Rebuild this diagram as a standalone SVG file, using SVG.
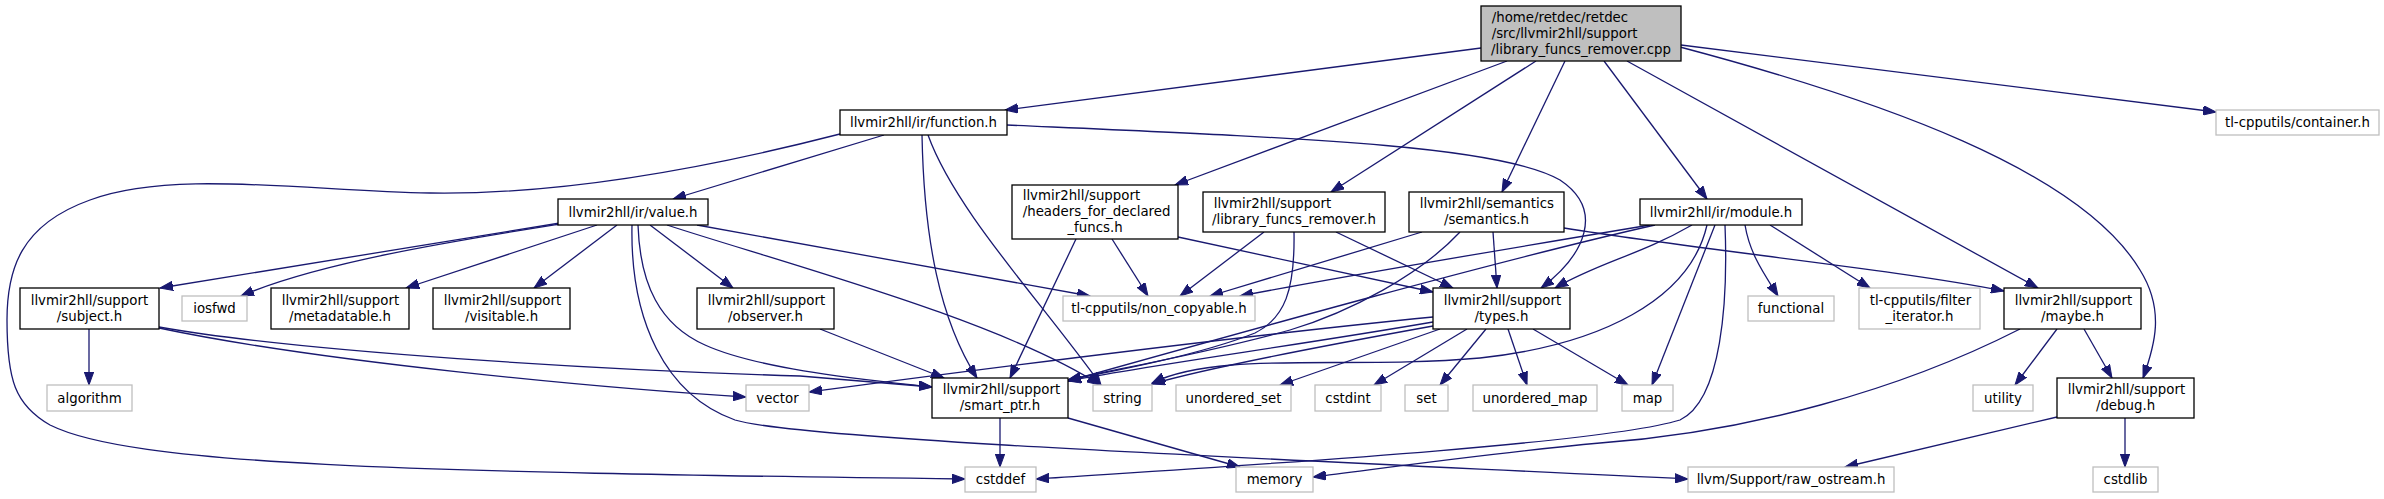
<svg xmlns="http://www.w3.org/2000/svg" width="2384" height="499" viewBox="0 0 2384 499">
<style>
.e{fill:none;stroke:#191970;stroke-width:1.3}
.n rect{fill:#fff;stroke:#000;stroke-width:1.3}
.x rect{fill:#fff;stroke:#bfbfbf;stroke-width:1.3}
.m rect{fill:#bfbfbf;stroke:#000;stroke-width:1.3}
text{font-family:"DejaVu Sans",sans-serif;font-size:13.33px;fill:#000}
.c{text-anchor:middle}
.s{text-anchor:start}
</style>
<defs>
<marker id="a" markerUnits="userSpaceOnUse" markerWidth="14" markerHeight="10" viewBox="0 0 14 10" refX="13" refY="5" orient="auto">
<path d="M0,0.3 L13,5 L0,9.7 z" fill="#191970" stroke="#191970" stroke-width="1"/>
</marker>
</defs>
<rect width="2384" height="499" fill="#fff"/>
<g id="edges" class="e" marker-end="url(#a)">
<path d="M1481,48 L1005,110"/>
<path d="M1507,61 L1175,185"/>
<path d="M1536,61 L1331,192"/>
<path d="M1565,61 L1502,192"/>
<path d="M1604,61 L1707,199"/>
<path d="M1627,61 L2038,288"/>
<path d="M1680,47 C1880,100 2080,170 2140,270 C2165,310 2155,345 2143,378"/>
<path d="M1681,45 L2216,112"/>
<path d="M884,135 L673,199"/>
<path d="M840,134 C700,170 560,195 430,193 C300,190 170,170 90,200 C20,225 7,270 7,320 C7,380 15,405 50,425 C130,465 400,472 965,479"/>
<path d="M922,135 C924,240 940,320 977,378"/>
<path d="M928,135 C955,210 1040,300 1101,385"/>
<path d="M1007,125 C1300,138 1500,145 1560,180 C1605,210 1585,255 1541,288"/>
<path d="M560,223 L160,288"/>
<path d="M560,224 C460,240 320,262 241,296"/>
<path d="M597,225 L406,288"/>
<path d="M617,225 L534,288"/>
<path d="M650,225 L733,288"/>
<path d="M638,225 C640,285 660,325 705,345 C760,370 870,380 932,387"/>
<path d="M632,225 C630,320 665,395 735,420 C800,440 1300,460 1688,479"/>
<path d="M667,225 C780,262 1000,320 1100,385"/>
<path d="M697,225 L1090,296"/>
<path d="M89,329 L89,385"/>
<path d="M159,328 C320,362 600,388 746,397"/>
<path d="M159,327 C300,352 600,370 800,376 L932,387"/>
<path d="M820,329 L944,378"/>
<path d="M1076,239 L1010,378"/>
<path d="M1112,239 L1148,296"/>
<path d="M1178,237 L1433,292"/>
<path d="M1264,232 L1180,296"/>
<path d="M1294,232 C1295,290 1285,318 1255,333 C1200,355 1110,372 1068,380"/>
<path d="M1336,232 L1453,288"/>
<path d="M1422,232 L1210,296"/>
<path d="M1460,232 C1420,275 1350,312 1290,330 C1200,355 1110,370 1068,380"/>
<path d="M1493,232 L1497,288"/>
<path d="M1564,228 C1700,250 1900,270 2004,291"/>
<path d="M1650,225 C1500,250 1350,275 1240,296"/>
<path d="M1655,225 C1500,260 1250,330 1068,381"/>
<path d="M1692,225 C1640,255 1600,262 1555,288"/>
<path d="M1707,225 C1690,300 1600,345 1480,358 C1350,370 1220,350 1152,383"/>
<path d="M1715,225 L1652,385"/>
<path d="M1725,225 C1728,300 1722,400 1680,420 C1600,445 1200,468 1036,479"/>
<path d="M1745,225 C1750,255 1765,275 1778,296"/>
<path d="M1770,225 L1870,288"/>
<path d="M1433,317 C1200,340 900,380 809,392"/>
<path d="M1433,322 C1300,345 1150,365 1068,381"/>
<path d="M1433,326 C1300,350 1200,370 1152,384"/>
<path d="M1440,329 L1280,385"/>
<path d="M1467,329 L1374,385"/>
<path d="M1486,329 L1440,385"/>
<path d="M1508,329 L1527,385"/>
<path d="M1533,329 L1628,385"/>
<path d="M2020,329 C1900,390 1750,432 1600,443 C1500,452 1400,466 1313,477"/>
<path d="M2057,329 L2015,385"/>
<path d="M2084,329 L2112,378"/>
<path d="M2057,417 L1845,467"/>
<path d="M2125,418 L2125,467"/>
<path d="M1000,418 L1000,467"/>
<path d="M1068,418 L1240,467"/>
</g>
<g id="main" class="m"><rect x="1481" y="6" width="200" height="55"/>
<text class="s" x="1491.7" y="21.5">/home/retdec/retdec</text>
<text class="s" x="1491.7" y="37.5">/src/llvmir2hll/support</text>
<text class="c" x="1581" y="53.5">/library_funcs_remover.cpp</text></g>
<g id="function" class="n"><rect x="840" y="110" width="167" height="25"/><text class="c" x="923.5" y="127">llvmir2hll/ir/function.h</text></g>
<g id="value" class="n"><rect x="558" y="199" width="150" height="26"/><text class="c" x="633" y="216.5">llvmir2hll/ir/value.h</text></g>
<g id="headers" class="n"><rect x="1012" y="185" width="166" height="54"/>
<text class="s" x="1022.7" y="200">llvmir2hll/support</text>
<text class="s" x="1022.7" y="216">/headers_for_declared</text>
<text class="c" x="1095" y="232">_funcs.h</text></g>
<g id="lfr" class="n"><rect x="1203" y="192" width="182" height="40"/>
<text class="s" x="1213.7" y="208">llvmir2hll/support</text>
<text class="c" x="1294" y="224">/library_funcs_remover.h</text></g>
<g id="semantics" class="n"><rect x="1409" y="192" width="155" height="40"/>
<text class="s" x="1419.7" y="208">llvmir2hll/semantics</text>
<text class="c" x="1486.5" y="224">/semantics.h</text></g>
<g id="module" class="n"><rect x="1640" y="199" width="162" height="26"/><text class="c" x="1721" y="216.5">llvmir2hll/ir/module.h</text></g>
<g id="container" class="x"><rect x="2216" y="110" width="163" height="25"/><text class="c" x="2297.5" y="127">tl-cpputils/container.h</text></g>
<g id="subject" class="n"><rect x="20" y="288" width="139" height="41"/>
<text class="s" x="30.7" y="304.5">llvmir2hll/support</text>
<text class="c" x="89.5" y="320.5">/subject.h</text></g>
<g id="iosfwd" class="x"><rect x="182" y="296" width="65" height="25"/><text class="c" x="214.5" y="313">iosfwd</text></g>
<g id="metadatable" class="n"><rect x="271" y="288" width="138" height="41"/>
<text class="s" x="281.7" y="304.5">llvmir2hll/support</text>
<text class="c" x="340" y="320.5">/metadatable.h</text></g>
<g id="visitable" class="n"><rect x="433" y="288" width="137" height="41"/>
<text class="s" x="443.7" y="304.5">llvmir2hll/support</text>
<text class="c" x="501.5" y="320.5">/visitable.h</text></g>
<g id="observer" class="n"><rect x="697" y="288" width="137" height="41"/>
<text class="s" x="707.7" y="304.5">llvmir2hll/support</text>
<text class="c" x="765.5" y="320.5">/observer.h</text></g>
<g id="non_copyable" class="x"><rect x="1063" y="296" width="192" height="25"/><text class="c" x="1159" y="313">tl-cpputils/non_copyable.h</text></g>
<g id="types" class="n"><rect x="1433" y="288" width="137" height="41"/>
<text class="s" x="1443.7" y="304.5">llvmir2hll/support</text>
<text class="c" x="1501.5" y="320.5">/types.h</text></g>
<g id="functional" class="x"><rect x="1748" y="296" width="86" height="25"/><text class="c" x="1791" y="313">functional</text></g>
<g id="filter_iterator" class="x"><rect x="1859" y="288" width="121" height="41"/>
<text class="s" x="1869.7" y="304.5">tl-cpputils/filter</text>
<text class="c" x="1919.5" y="320.5">_iterator.h</text></g>
<g id="maybe" class="n"><rect x="2004" y="288" width="137" height="41"/>
<text class="s" x="2014.7" y="304.5">llvmir2hll/support</text>
<text class="c" x="2072.5" y="320.5">/maybe.h</text></g>
<g id="algorithm" class="x"><rect x="47" y="385" width="85" height="26"/><text class="c" x="89.5" y="402.5">algorithm</text></g>
<g id="vector" class="x"><rect x="746" y="385" width="63" height="26"/><text class="c" x="777.5" y="402.5">vector</text></g>
<g id="smart_ptr" class="n"><rect x="932" y="378" width="136" height="40"/>
<text class="s" x="942.7" y="394">llvmir2hll/support</text>
<text class="c" x="1000" y="410">/smart_ptr.h</text></g>
<g id="string" class="x"><rect x="1093" y="385" width="59" height="26"/><text class="c" x="1122.5" y="402.5">string</text></g>
<g id="unordered_set" class="x"><rect x="1176" y="385" width="115" height="26"/><text class="c" x="1233.5" y="402.5">unordered_set</text></g>
<g id="cstdint" class="x"><rect x="1315" y="385" width="66" height="26"/><text class="c" x="1348" y="402.5">cstdint</text></g>
<g id="set" class="x"><rect x="1405" y="385" width="43" height="26"/><text class="c" x="1426.5" y="402.5">set</text></g>
<g id="unordered_map" class="x"><rect x="1473" y="385" width="124" height="26"/><text class="c" x="1535" y="402.5">unordered_map</text></g>
<g id="map" class="x"><rect x="1622" y="385" width="51" height="26"/><text class="c" x="1647.5" y="402.5">map</text></g>
<g id="utility" class="x"><rect x="1973" y="385" width="60" height="26"/><text class="c" x="2003" y="402.5">utility</text></g>
<g id="debug" class="n"><rect x="2057" y="378" width="137" height="40"/>
<text class="s" x="2067.7" y="394">llvmir2hll/support</text>
<text class="c" x="2125.5" y="410">/debug.h</text></g>
<g id="cstddef" class="x"><rect x="965" y="467" width="71" height="25"/><text class="c" x="1000.5" y="484">cstddef</text></g>
<g id="memory" class="x"><rect x="1236" y="467" width="77" height="25"/><text class="c" x="1274.5" y="484">memory</text></g>
<g id="raw_ostream" class="x"><rect x="1688" y="467" width="206" height="25"/><text class="c" x="1791" y="484">llvm/Support/raw_ostream.h</text></g>
<g id="cstdlib" class="x"><rect x="2093" y="467" width="65" height="25"/><text class="c" x="2125.5" y="484">cstdlib</text></g>
</svg>
